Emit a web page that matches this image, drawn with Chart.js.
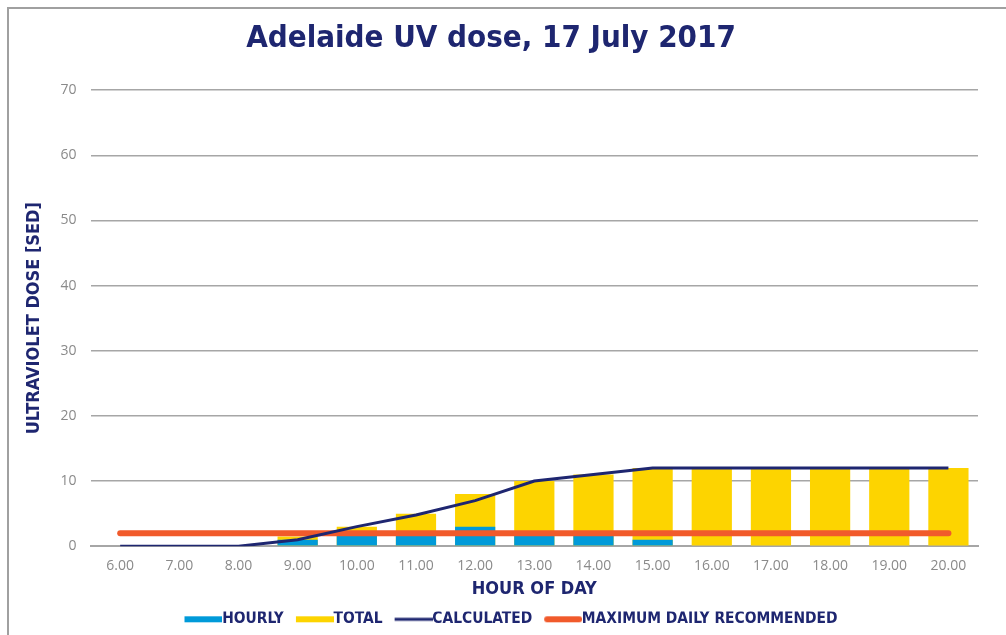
<!DOCTYPE html>
<html>
<head>
<meta charset="utf-8">
<script src="https://cdn.jsdelivr.net/npm/chart.js@4/dist/chart.umd.min.js"></script>
<style>
  html, body { margin: 0; padding: 0; background: #fff; overflow: hidden; }
  #frame { position: absolute; left: 7px; top: 7px; width: 1100px; height: 700px; border: 2px solid #a0a0a0; }
  #wrap { position: absolute; left: 0; top: 0; width: 1006px; height: 635px; }
</style>
</head>
<body>
<div id="frame"></div>
<div id="wrap"><canvas id="uvChart" width="1006" height="635"></canvas></div>
<script>
const HOURS = ['6.00','7.00','8.00','9.00','10.00','11.00','12.00','13.00','14.00','15.00','16.00','17.00','18.00','19.00','20.00'];
const HOURLY = [0, 0, 0, 1, 2, 2, 3, 2, 2, 1, 0, 0, 0, 0, 0];
const TOTAL = [0, 0, 0, 1.5, 3, 5, 8, 10, 11, 12, 12, 12, 12, 12, 12];
const CALCULATED = [0, 0, 0, 1, 3, 4.8, 7, 10, 11, 12, 12, 12, 12, 12, 12];
const MAX_DAILY = [2, 2, 2, 2, 2, 2, 2, 2, 2, 2, 2, 2, 2, 2, 2];
const Y_TICKS = [0, 10, 20, 30, 40, 50, 60, 70];

const NAVY = '#1e2670';
const BLUE = '#009ad9';
const YELLOW = '#fdd400';
const ORANGE = '#f15a2b';
const GREY = '#a6a6a6';
const NARROW = "'Liberation Sans Narrow', 'DejaVu Sans Condensed', sans-serif";

// legend marker: 58px wide image, the 38px stroke sits at its right end so the text follows it directly
function swatch(color, h, round) {
  const c = document.createElement('canvas');
  c.width = 58; c.height = 8;
  const g = c.getContext('2d');
  g.strokeStyle = color;
  g.lineWidth = h;
  g.lineCap = round ? 'round' : 'butt';
  g.beginPath();
  g.moveTo(round ? 23 : 20, 4);
  g.lineTo(round ? 55 : 58, 4);
  g.stroke();
  return c;
}

const shiftLegend = {
  id: 'shiftLegend',
  afterLayout(chart) { chart.legend.left += 14; chart.legend.right += 14; }
};

const ctx = document.getElementById('uvChart').getContext('2d');
new Chart(ctx, {
  data: {
    labels: HOURS,
    datasets: [
      { type: 'bar', label: 'HOURLY', data: HOURLY, backgroundColor: BLUE, order: 2,
        grouped: false, barPercentage: 0.68, categoryPercentage: 1, pointStyle: swatch(BLUE, 6) },
      { type: 'bar', label: 'TOTAL', data: TOTAL, backgroundColor: YELLOW, order: 3,
        grouped: false, barPercentage: 0.68, categoryPercentage: 1, pointStyle: swatch(YELLOW, 6) },
      { type: 'line', label: 'CALCULATED', data: CALCULATED, borderColor: NAVY, borderWidth: 3,
        pointRadius: 0, tension: 0, order: 0, pointStyle: swatch(NAVY, 3) },
      { type: 'line', label: 'MAXIMUM DAILY RECOMMENDED', data: MAX_DAILY, borderColor: ORANGE, borderWidth: 6,
        borderCapStyle: 'round', pointRadius: 0, order: 1, pointStyle: swatch(ORANGE, 6, true) }
    ]
  },
  plugins: [shiftLegend],
  options: {
    responsive: false,
    animation: false,
    layout: { padding: { left: 4, right: 28, top: 10, bottom: -2 } },
    plugins: {
      title: {
        display: true,
        text: 'Adelaide UV dose, 17 July 2017',
        color: NAVY,
        font: { family: NARROW, size: 31, weight: 'bold' },
        padding: { top: 10, bottom: 33 }
      },
      legend: {
        position: 'bottom',
        labels: {
          sort: (a, b) => a.datasetIndex - b.datasetIndex,
          usePointStyle: true,
          pointStyleWidth: 42,
          color: NAVY,
          padding: 0,
          font: { family: NARROW, size: 15.4, weight: 'bold' }
        }
      },
      tooltip: { enabled: false }
    },
    scales: {
      x: {
        grid: { display: false },
        border: { display: true, color: GREY, width: 2 },
        ticks: { color: '#8a8a8a', font: { family: "'Open Sans', sans-serif", size: 14 }, padding: 3 },
        title: { display: true, text: 'HOUR OF DAY', color: NAVY, font: { family: NARROW, size: 18, weight: 'bold' }, padding: { top: 2, bottom: 11 } }
      },
      y: {
        min: 0, max: 70,
        afterBuildTicks: axis => { axis.ticks = Y_TICKS.map(v => ({ value: v })); },
        grid: { color: GREY, lineWidth: 1.5, drawTicks: false },
        border: { display: false },
        ticks: { color: '#8a8a8a', font: { family: "'Open Sans', sans-serif", size: 14 }, padding: 14 },
        title: { display: true, text: 'ULTRAVIOLET DOSE [SED]', color: NAVY, font: { family: NARROW, size: 18, weight: 'bold' }, padding: { top: 20, bottom: 1 } }
      }
    }
  }
});
</script>
</body>
</html>
